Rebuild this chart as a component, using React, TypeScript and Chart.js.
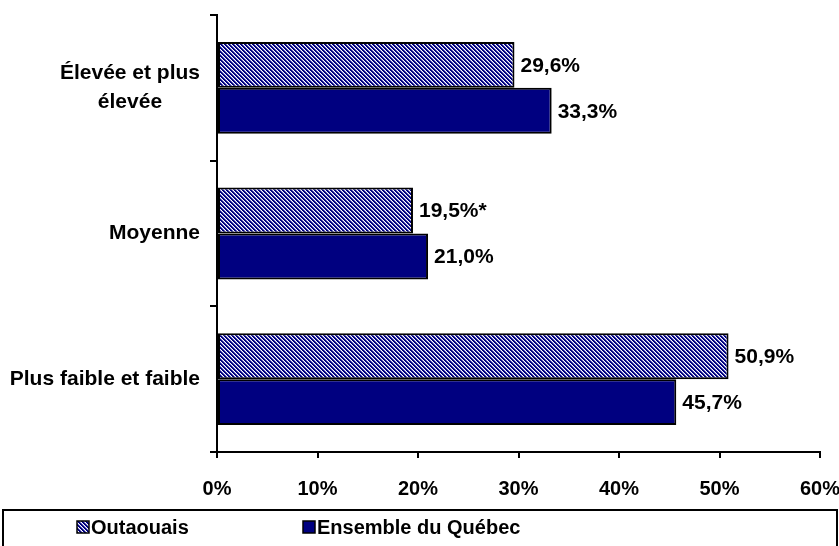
import { useEffect, useRef } from 'react';
import { Chart, registerables } from 'chart.js';

Chart.register(...registerables);

const categories: string[][] = [['Élevée et plus', 'élevée'], ['Moyenne'], ['Plus faible et faible']];
const seriesNames = ['Outaouais', 'Ensemble du Québec'];
const outaouais = [29.6, 19.5, 50.9];
const quebec = [33.3, 21.0, 45.7];
const outaouaisLabels = ['29,6%', '19,5%*', '50,9%'];
const quebecLabels = ['33,3%', '21,0%', '45,7%'];
const xMin = 0;
const xMax = 60;
const xStep = 10;

const FONT = "'Liberation Sans', Arial, sans-serif";
const NAVY = '#000080';

function makePattern(): CanvasPattern | string {
  const n = 4;
  const c = document.createElement('canvas');
  c.width = n;
  c.height = n;
  const ctx = c.getContext('2d');
  if (!ctx) return '#6060c0';
  ctx.fillStyle = '#ffffff';
  ctx.fillRect(0, 0, n, n);
  for (let x = 0; x < n; x++) {
    for (let y = 0; y < n; y++) {
      const k = (x - y + 3 * n) % n;
      if (k === 0 || k === 1) {
        ctx.fillStyle = NAVY;
        ctx.fillRect(x, y, 1, 1);
      } else if (k === 2) {
        ctx.fillStyle = '#8080c8';
        ctx.fillRect(x, y, 1, 1);
      }
    }
  }
  const p = ctx.createPattern(c, 'repeat');
  return p || '#6060c0';
}

export default function App() {
  const ref = useRef<HTMLCanvasElement | null>(null);

  useEffect(() => {
    document.body.style.margin = '0';
    const canvas = ref.current;
    if (!canvas) return;
    const pattern = makePattern();

    const overlay = {
      id: 'overlay',
      afterDraw(chart: any) {
        const ctx = chart.ctx as CanvasRenderingContext2D;
        const yScale = chart.scales.y;
        ctx.save();
        ctx.fillStyle = '#000';
        ctx.font = `bold 21px ${FONT}`;
        ctx.textBaseline = 'middle';
        // category labels
        categories.forEach((lines, i) => {
          const cy = yScale.getPixelForValue(i);
          const lh = 29;
          const widths = lines.map((l) => ctx.measureText(l).width);
          const maxW = Math.max(...widths);
          const right = 200;
          const left = Math.max(8, right - maxW);
          const center = left + maxW / 2;
          lines.forEach((l, j) => {
            const y = cy + (j - (lines.length - 1) / 2) * lh;
            ctx.textAlign = 'center';
            ctx.fillText(l, center, y);
          });
        });
        // data labels
        const labelSets = [outaouaisLabels, quebecLabels];
        chart.data.datasets.forEach((_: any, di: number) => {
          const meta = chart.getDatasetMeta(di);
          meta.data.forEach((el: any, i: number) => {
            ctx.textAlign = 'left';
            ctx.fillText(labelSets[di][i], el.x + 6, el.y + 1);
          });
        });
        // legend box
        ctx.lineWidth = 2;
        ctx.strokeStyle = '#000';
        ctx.strokeRect(3, 510, 834, 60);
        ctx.font = `bold 20px ${FONT}`;
        const items = [
          { x: 77, fill: pattern, text: seriesNames[0] },
          { x: 303, fill: NAVY, text: seriesNames[1] },
        ];
        items.forEach((it) => {
          ctx.fillStyle = it.fill as any;
          ctx.fillRect(it.x, 521, 12, 12);
          ctx.lineWidth = 1.5;
          ctx.strokeRect(it.x, 521, 12, 12);
          ctx.fillStyle = '#000';
          ctx.textAlign = 'left';
          ctx.fillText(it.text, it.x + 14, 528);
        });
        ctx.restore();
      },
    };

    const chart = new Chart(canvas, {
      type: 'bar',
      data: {
        labels: categories.map((c) => c.join(' ')),
        datasets: [
          {
            label: seriesNames[0],
            data: outaouais,
            backgroundColor: pattern as any,
            borderColor: '#000',
            borderWidth: 2,
            borderSkipped: false,
            barPercentage: 1,
            categoryPercentage: 0.63,
          },
          {
            label: seriesNames[1],
            data: quebec,
            backgroundColor: NAVY,
            borderColor: '#000',
            borderWidth: 2,
            borderSkipped: false,
            barPercentage: 1,
            categoryPercentage: 0.63,
          },
        ],
      },
      options: {
        indexAxis: 'y',
        responsive: false,
        animation: false,
        events: [],
        layout: { padding: { left: 0, right: 19, top: 15, bottom: 0 } },
        plugins: {
          legend: { display: false },
          tooltip: { enabled: false },
          title: { display: false },
        },
        scales: {
          x: {
            min: xMin,
            max: xMax,
            grid: {
              drawOnChartArea: false,
              drawTicks: true,
              tickLength: 6,
              color: '#000',
              lineWidth: 2,
            },
            border: { color: '#000', width: 2 },
            ticks: {
              stepSize: xStep,
              color: '#000',
              padding: 19,
              font: { family: FONT, size: 20, weight: 'bold' },
              callback: (v: any) => `${v}%`,
            },
            afterFit: (scale: any) => {
              scale.height = 94;
              scale.paddingRight = 0;
              scale.paddingLeft = 0;
            },
          },
          y: {
            type: 'category',
            offset: true,
            grid: {
              offset: true,
              drawOnChartArea: false,
              drawTicks: true,
              tickLength: 7,
              color: '#000',
              lineWidth: 2,
            },
            border: { color: '#000', width: 2 },
            ticks: { display: false },
            afterFit: (scale: any) => {
              scale.width = 217;
              scale.paddingTop = 0;
              scale.paddingBottom = 0;
            },
          },
        },
      },
      plugins: [overlay],
    });

    return () => chart.destroy();
  }, []);

  return <canvas ref={ref} width={839} height={546} style={{ display: 'block' }} />;
}
